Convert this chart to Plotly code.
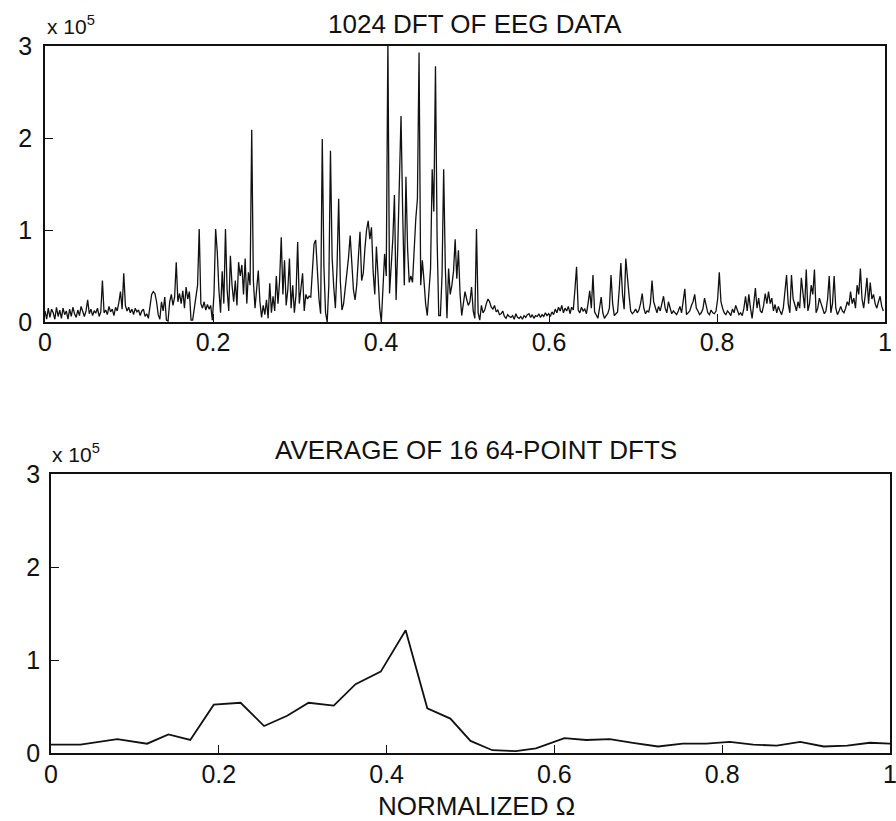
import numpy as np
import plotly.graph_objects as go

# 1024-point DFT magnitude of EEG record, first 512 bins, in units of 1e5
dft1024_mag_e5 = [
    0.12, 0.03, 0.15, 0.05, 0.14, 0.10, 0.03, 0.16, 0.06, 0.13, 0.04, 0.15, 0.08, 0.12, 0.03, 0.14,
    0.06, 0.16, 0.09, 0.05, 0.13, 0.07, 0.17, 0.10, 0.06, 0.12, 0.24, 0.09, 0.14, 0.07, 0.12, 0.10,
    0.15, 0.06, 0.11, 0.45, 0.10, 0.13, 0.08, 0.17, 0.11, 0.14, 0.07, 0.16, 0.12, 0.21, 0.33, 0.14,
    0.53, 0.18, 0.12, 0.16, 0.10, 0.14, 0.08, 0.15, 0.11, 0.13, 0.07, 0.12, 0.14, 0.06, 0.09, 0.04,
    0.18, 0.30, 0.33, 0.31, 0.22, 0.08, 0.03, 0.22, 0.12, 0.27, 0.02, 0.01, 0.22, 0.30, 0.18, 0.27,
    0.65, 0.22, 0.31, 0.20, 0.34, 0.15, 0.38, 0.25, 0.33, 0.02, 0.02, 0.15, 0.24, 0.40, 1.01, 0.20,
    0.15, 0.22, 0.13, 0.19, 0.14, 0.18, 0.02, 0.30, 1.01, 0.76, 0.35, 0.10, 0.55, 0.20, 1.01, 0.35,
    0.12, 0.72, 0.40, 0.22, 0.45, 0.18, 0.65, 0.50, 0.62, 0.30, 0.69, 0.20, 0.54, 0.40, 2.09, 0.45,
    0.15, 0.32, 0.56, 0.22, 0.05, 0.18, 0.08, 0.24, 0.04, 0.42, 0.10, 0.28, 0.12, 0.50, 0.20, 0.45,
    0.92, 0.30, 0.67, 0.18, 0.35, 0.69, 0.15, 0.40, 0.10, 0.30, 0.87, 0.20, 0.35, 0.53, 0.12, 0.30,
    0.25, 0.28, 0.27, 0.60, 0.85, 0.89, 0.55, 0.25, 0.09, 1.99, 0.60, 0.10, 0.00, 0.40, 1.86, 0.70,
    0.38, 0.15, 0.60, 1.34, 0.45, 0.13, 0.20, 0.35, 0.50, 0.70, 0.94, 0.60, 0.35, 0.24, 0.40, 0.70,
    0.98, 0.45, 0.53, 0.80, 1.00, 1.10, 0.90, 1.03, 0.55, 0.30, 0.82, 0.50, 0.15, 0.00, 0.35, 0.74,
    0.50, 3.06, 0.31, 0.55, 0.90, 1.38, 0.24, 0.80, 1.68, 2.24, 1.20, 0.40, 1.58, 0.80, 0.43, 0.50,
    0.43, 0.85, 1.12, 1.34, 2.93, 0.40, 0.67, 0.45, 0.20, 0.07, 0.30, 0.58, 1.66, 1.20, 2.78, 0.90,
    0.07, 0.07, 0.50, 1.66, 0.60, 0.04, 0.58, 0.30, 0.40, 0.55, 0.90, 0.47, 0.78, 0.30, 0.07, 0.20,
    0.33, 0.25, 0.18, 0.22, 0.38, 0.12, 0.04, 1.01, 0.10, 0.02, 0.18, 0.10, 0.13, 0.20, 0.25, 0.22,
    0.16, 0.14, 0.18, 0.11, 0.13, 0.08, 0.09, 0.12, 0.06, 0.04, 0.08, 0.06, 0.05, 0.07, 0.03, 0.09,
    0.05, 0.04, 0.06, 0.03, 0.07, 0.05, 0.08, 0.09, 0.05, 0.08, 0.04, 0.07, 0.06, 0.09, 0.05, 0.08,
    0.06, 0.10, 0.07, 0.09, 0.06, 0.11, 0.08, 0.14, 0.10, 0.16, 0.12, 0.18, 0.10, 0.15, 0.12, 0.17,
    0.09, 0.16, 0.13, 0.35, 0.60, 0.13, 0.10, 0.16, 0.12, 0.14, 0.09, 0.20, 0.34, 0.15, 0.51, 0.11,
    0.08, 0.04, 0.15, 0.27, 0.10, 0.04, 0.07, 0.09, 0.15, 0.51, 0.20, 0.07, 0.09, 0.11, 0.35, 0.64,
    0.30, 0.14, 0.69, 0.45, 0.29, 0.12, 0.09, 0.11, 0.14, 0.10, 0.13, 0.20, 0.31, 0.15, 0.09, 0.12,
    0.11, 0.20, 0.45, 0.22, 0.15, 0.10, 0.17, 0.12, 0.20, 0.28, 0.15, 0.10, 0.22, 0.15, 0.09, 0.12,
    0.10, 0.08, 0.12, 0.17, 0.10, 0.25, 0.36, 0.08, 0.10, 0.12, 0.18, 0.22, 0.30, 0.15, 0.12, 0.08,
    0.10, 0.14, 0.26, 0.18, 0.10, 0.08, 0.13, 0.10, 0.09, 0.12, 0.25, 0.54, 0.22, 0.15, 0.10, 0.08,
    0.12, 0.10, 0.07, 0.14, 0.10, 0.18, 0.12, 0.08, 0.10, 0.07, 0.15, 0.28, 0.12, 0.30, 0.15, 0.04,
    0.20, 0.37, 0.15, 0.26, 0.12, 0.10, 0.18, 0.31, 0.20, 0.33, 0.20, 0.26, 0.12, 0.19, 0.10, 0.17,
    0.12, 0.08, 0.15, 0.30, 0.51, 0.20, 0.10, 0.51, 0.25, 0.19, 0.12, 0.22, 0.15, 0.48, 0.30, 0.15,
    0.57, 0.12, 0.20, 0.40, 0.30, 0.57, 0.10, 0.15, 0.26, 0.20, 0.15, 0.09, 0.12, 0.25, 0.50, 0.10,
    0.20, 0.50, 0.15, 0.08, 0.12, 0.17, 0.12, 0.10, 0.15, 0.22, 0.18, 0.33, 0.20, 0.26, 0.15, 0.40,
    0.30, 0.58, 0.25, 0.15, 0.30, 0.48, 0.20, 0.43, 0.25, 0.30, 0.20, 0.15, 0.22, 0.28, 0.17, 0.12,
]
n_bins = 512
dft1024_freq = np.arange(n_bins) / n_bins  # normalized Omega (Omega / pi)

# Average of sixteen 64-point DFT magnitudes, in units of 1e5
avg64_freq = [0.0, 0.035, 0.079, 0.1145, 0.140, 0.166, 0.194, 0.226, 0.254, 0.2815,
              0.307, 0.337, 0.363, 0.393, 0.4227, 0.4485, 0.476, 0.50, 0.526, 0.554,
              0.578, 0.612, 0.638, 0.666, 0.6935, 0.7235, 0.753, 0.781, 0.809, 0.837,
              0.865, 0.893, 0.921, 0.949, 0.976, 1.0]
avg64_mag_e5 = [0.09, 0.09, 0.15, 0.10, 0.20, 0.14, 0.52, 0.54, 0.29, 0.40,
                0.54, 0.51, 0.74, 0.875, 1.32, 0.48, 0.37, 0.13, 0.03, 0.02,
                0.05, 0.16, 0.14, 0.15, 0.11, 0.07, 0.10, 0.10, 0.12, 0.09,
                0.08, 0.12, 0.07, 0.08, 0.11, 0.10]

x_ticks = [0, 0.2, 0.4, 0.6, 0.8, 1]
x_tick_text = ["0", "0.2", "0.4", "0.6", "0.8", "1"]
y_ticks = [0, 1, 2, 3]
y_tick_text = ["0", "1", "2", "3"]

W, H = 896, 821
FONT = "Liberation Sans, Arial, Helvetica, sans-serif"
INK = "#111111"


def px_x(p):
    return p / W


def px_y(p):
    return 1 - p / H


fig = go.Figure()
fig.add_trace(go.Scatter(x=dft1024_freq, y=dft1024_mag_e5, mode="lines",
                         line=dict(color=INK, width=1.3), xaxis="x", yaxis="y",
                         showlegend=False))
fig.add_trace(go.Scatter(x=avg64_freq, y=avg64_mag_e5, mode="lines",
                         line=dict(color=INK, width=1.8), xaxis="x2", yaxis="y2",
                         showlegend=False))

axis_common = dict(showgrid=False, zeroline=False, showline=True, mirror=True,
                   automargin=False, ticklabeloverflow="allow",
                   linecolor=INK, linewidth=1.8, ticks="inside", ticklen=8,
                   tickwidth=1.2, tickcolor=INK,
                   tickfont=dict(family=FONT, size=25, color=INK))

fig.update_layout(
    template="none",
    width=W, height=H,
    margin=dict(l=0, r=0, t=0, b=0, pad=0),
    paper_bgcolor="white", plot_bgcolor="white",
    xaxis=dict(axis_common, domain=[px_x(45), px_x(885)], range=[0, 1],
               tickvals=x_ticks, ticktext=x_tick_text, anchor="y",
               ticklabelstandoff=-3),
    yaxis=dict(axis_common, domain=[px_y(322), px_y(46)], range=[0, 3],
               tickvals=y_ticks, ticktext=y_tick_text, anchor="x",
               ticklabelstandoff=6),
    xaxis2=dict(axis_common, domain=[px_x(51), px_x(890)], range=[0, 1],
                tickvals=x_ticks, ticktext=x_tick_text, anchor="y2",
                ticklabelstandoff=-2),
    yaxis2=dict(axis_common, domain=[px_y(753), px_y(474)], range=[0, 3],
                tickvals=y_ticks, ticktext=y_tick_text, anchor="x2",
                ticklabelstandoff=4),
)

annotations = [
    dict(text="1024 DFT OF EEG DATA", x=px_x(475), y=px_y(24)),
    dict(text="AVERAGE OF 16 64-POINT DFTS", x=px_x(476), y=px_y(450)),
    dict(text="NORMALIZED \u03a9", x=px_x(476), y=px_y(806)),
]
for a in annotations:
    fig.add_annotation(xref="paper", yref="paper", showarrow=False,
                       xanchor="center", yanchor="middle",
                       font=dict(family=FONT, size=26, color=INK), **a)

# exponent labels above each y axis
for xp, yp in [(45, 40), (50, 468)]:
    fig.add_annotation(text="x 10<sup>5</sup>", xref="paper", yref="paper",
                       x=px_x(xp), y=px_y(yp), xanchor="left", yanchor="bottom",
                       showarrow=False,
                       font=dict(family=FONT, size=21, color=INK))

fig.write_html("out.html")
